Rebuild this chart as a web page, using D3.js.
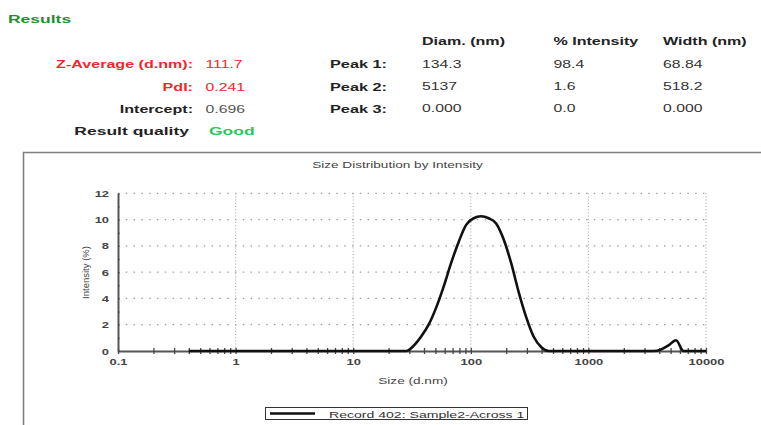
<!DOCTYPE html>
<html>
<head>
<meta charset="utf-8">
<script src="https://cdn.jsdelivr.net/npm/d3@7"></script>
<style>
  body { margin: 0; background: #fff; }
  svg { display: block; font-family: "Liberation Sans", Arial, sans-serif; }
</style>
</head>
<body>
<div id="chart"></div>
<script>
// summary table
var summaryLabels = ["Z-Average (d.nm):", "PdI:", "Intercept:"];
var summaryValues = ["111.7", "0.241", "0.696"];
var qualityLabel = "Result quality";
var qualityValue = "Good";
var peakLabels = ["Peak 1:", "Peak 2:", "Peak 3:"];
var peakColumns = ["Diam. (nm)", "% Intensity", "Width (nm)"];
var peakDiam = ["134.3", "5137", "0.000"];
var peakIntensity = ["98.4", "1.6", "0.0"];
var peakWidth = ["68.84", "518.2", "0.000"];

// size distribution
var sizes = [0.4, 24.36, 28.21, 32.67, 37.84, 43.82, 50.75, 58.77, 68.06, 78.82, 91.28, 105.7, 122.4, 141.8, 164.2, 190.1, 220.2, 255.0, 295.3, 342.0, 396.1, 458.7, 531.2, 3580, 4145, 4801, 5560, 6439, 7456, 10000];
var intensity = [0, 0, 0, 0.4, 1.1, 2.0, 3.3, 4.9, 6.7, 8.3, 9.6, 10.1, 10.25, 10.1, 9.7, 8.5, 6.7, 4.5, 2.6, 1.1, 0.3, 0, 0, 0, 0.12, 0.42, 0.82, 0, 0, 0];

var xMajor = [0.1, 1, 10, 100, 1000, 10000];
var xMajorLabels = ["0.1", "1", "10", "100", "1000", "10000"];
var yTicks = [0, 1, 2, 3, 4, 5, 6, 7, 8, 9, 10, 11, 12];
var yLabelled = [0, 2, 4, 6, 8, 10, 12];

var chartTitle = "Size Distribution by Intensity";
var xTitle = "Size (d.nm)";
var yTitle = "Intensity (%)";
var legendText = "Record 402: Sample2-Across 1";

var W = 761, H = 425;
var svg = d3.select("#chart").append("svg")
    .attr("width", W)
    .attr("height", H);

// text helper, the picture is stretched sideways so widen glyphs by k
function put(g, str, x, y, o) {
  var t = g.append("text")
    .attr("x", x)
    .attr("y", y)
    .attr("font-size", o.size)
    .attr("font-weight", o.bold ? "bold" : "normal")
    .attr("fill", o.fill || "#333")
    .attr("text-anchor", o.anchor || "start")
    .text(str);
  if (o.k) {
    t.attr("textLength", t.node().getComputedTextLength() * o.k)
     .attr("lengthAdjust", "spacingAndGlyphs");
  }
  return t;
}

var red = "#f2262b";

// header
put(svg, "Results", 8, 22.5, {size: 11.5, bold: true, fill: "#1f8f2f", k: 1.52});

var rowY = [68, 90.5, 112.5];
summaryLabels.forEach(function(s, i) {
  put(svg, s, 193, rowY[i], {size: 10.5, bold: true, anchor: "end", fill: i < 2 ? red : "#222", k: 1.53});
  put(svg, summaryValues[i], 205.5, rowY[i], {size: 10.5, fill: i < 2 ? red : "#555", k: 1.5});
});
put(svg, qualityLabel, 189, 135, {size: 11.5, bold: true, anchor: "end", fill: "#222", k: 1.52});
put(svg, qualityValue, 209, 135, {size: 11.5, bold: true, fill: "#2bc75a", k: 1.52});

var colX = [422, 553.5, 663];
peakColumns.forEach(function(s, i) {
  put(svg, s, colX[i], 45, {size: 10.5, bold: true, fill: "#222", k: 1.53});
});
peakLabels.forEach(function(s, i) {
  put(svg, s, 330, rowY[i], {size: 10.5, bold: true, fill: "#222", k: 1.55});
  put(svg, peakDiam[i], colX[0], rowY[i] - 0.5, {size: 10.5, fill: "#333", k: 1.5});
  put(svg, peakIntensity[i], colX[1], rowY[i] - 0.5, {size: 10.5, fill: "#333", k: 1.5});
  put(svg, peakWidth[i], colX[2], rowY[i] - 0.5, {size: 10.5, fill: "#333", k: 1.5});
});

// chart panel frame
svg.append("path")
  .attr("d", "M23.5," + H + "V152.5H" + W)
  .attr("fill", "none")
  .attr("stroke", "#808080")
  .attr("stroke-width", 1.6);

var x = d3.scaleLog().domain([0.1, 10000]).range([118, 706]);
var y = d3.scaleLinear().domain([0, 12]).range([351, 193.3]);

put(svg, chartTitle, 397.5, 168, {size: 9.5, fill: "#444", anchor: "middle", k: 1.43});

// grid
var grid = svg.append("g");
grid.selectAll(".hgrid")
  .data(yLabelled.slice(1))
  .enter().append("line")
    .attr("x1", x(0.1)).attr("x2", x(10000))
    .attr("y1", function(d) { return y(d); })
    .attr("y2", function(d) { return y(d); })
    .attr("stroke", "#999")
    .attr("stroke-width", 1.2)
    .attr("stroke-dasharray", "1.4,6.4");
grid.selectAll(".vgrid")
  .data(xMajor.slice(1))
  .enter().append("line")
    .attr("x1", function(d) { return x(d); })
    .attr("x2", function(d) { return x(d); })
    .attr("y1", y(0)).attr("y2", y(12))
    .attr("stroke", "#aaa")
    .attr("stroke-width", 1.2)
    .attr("stroke-dasharray", "1,2.2");

// x axis, minor ticks at 2..9 per decade
var xMinor = [];
xMajor.slice(0, -1).forEach(function(d) {
  [2, 3, 4, 5, 6, 7, 8, 9].forEach(function(m) { xMinor.push(d * m); });
});

var xAxis = svg.append("g")
  .attr("transform", "translate(0," + y(0) + ")")
  .call(d3.axisBottom(x)
    .tickValues(xMajor.concat(xMinor))
    .tickSize(3)
    .tickSizeOuter(0)
    .tickPadding(6)
    .tickFormat(function(d) {
      var i = xMajor.indexOf(d);
      return i < 0 ? "" : xMajorLabels[i];
    }));
xAxis.select(".domain").attr("stroke", "#555").attr("stroke-width", 2);
xAxis.selectAll(".tick line").attr("y1", -3).attr("y2", 3).attr("stroke", "#444").attr("stroke-width", 1.3);
xAxis.selectAll(".tick text")
  .attr("font-size", 9.5)
  .attr("font-weight", "bold")
  .attr("fill", "#444")
  .attr("font-family", "Liberation Sans, Arial, sans-serif")
  .attr("dy", "0.55em")
  .each(function() {
    var t = d3.select(this);
    if (t.text()) t.attr("textLength", this.getComputedTextLength() * 1.36).attr("lengthAdjust", "spacingAndGlyphs");
  });

// y axis
var yAxis = svg.append("g")
  .attr("transform", "translate(" + x(0.1) + ",0)")
  .call(d3.axisLeft(y)
    .tickValues(yTicks)
    .tickSize(4)
    .tickSizeOuter(0)
    .tickPadding(5)
    .tickFormat(function(d) { return yLabelled.indexOf(d) < 0 ? "" : d; }));
yAxis.select(".domain").attr("stroke", "#555").attr("stroke-width", 2);
yAxis.selectAll(".tick line").attr("x2", 1.5).attr("stroke", "#444").attr("stroke-width", 1.3);
yAxis.selectAll(".tick text")
  .attr("font-size", 9.5)
  .attr("font-weight", "bold")
  .attr("fill", "#444")
  .attr("font-family", "Liberation Sans, Arial, sans-serif")
  .each(function() {
    var t = d3.select(this);
    if (t.text()) t.attr("textLength", this.getComputedTextLength() * 1.36).attr("lengthAdjust", "spacingAndGlyphs");
  });

// axis titles
put(svg, xTitle, 413, 384, {size: 9.5, fill: "#444", anchor: "middle", k: 1.43});
svg.append("text")
  .attr("transform", "translate(89,272.5) rotate(-90)")
  .attr("text-anchor", "middle")
  .attr("font-size", 9.5)
  .attr("fill", "#444")
  .text(yTitle);

// distribution curve
var line = d3.line()
  .x(function(d) { return x(d[0]); })
  .y(function(d) { return y(d[1]); })
  .curve(d3.curveMonotoneX);

svg.append("path")
  .datum(sizes.map(function(s, i) { return [s, intensity[i]]; }))
  .attr("d", line)
  .attr("fill", "none")
  .attr("stroke", "#111")
  .attr("stroke-width", 2.6)
  .attr("stroke-linejoin", "round");

// legend
var legend = svg.append("g");
legend.append("rect")
  .attr("x", 265.5).attr("y", 407.5)
  .attr("width", 262).attr("height", 12)
  .attr("fill", "#fff")
  .attr("stroke", "#333")
  .attr("stroke-width", 1);
legend.append("line")
  .attr("x1", 270).attr("x2", 315)
  .attr("y1", 413.5).attr("y2", 413.5)
  .attr("stroke", "#111")
  .attr("stroke-width", 2.6);
put(legend, legendText, 329, 417.5, {size: 9.5, fill: "#333", k: 1.48});
</script>
</body>
</html>
